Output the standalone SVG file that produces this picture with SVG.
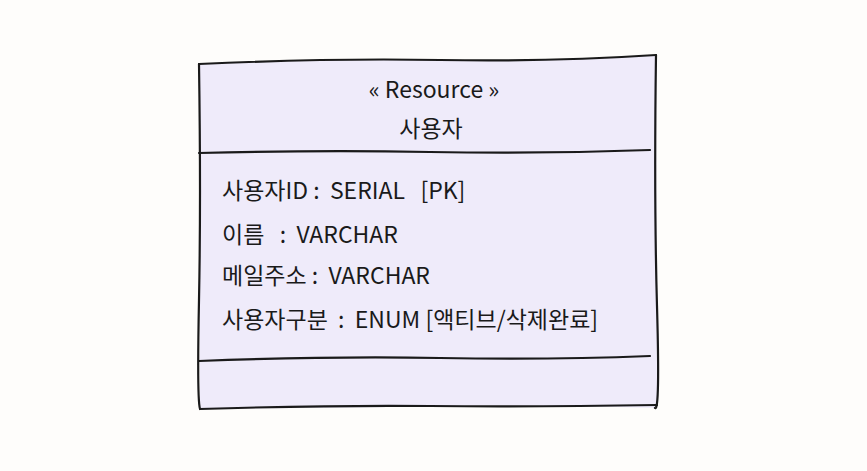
<svg xmlns="http://www.w3.org/2000/svg" width="867" height="471" viewBox="0 0 867 471">
<style>
.ln{fill:none;stroke:#1a1a1a;stroke-width:2.2;stroke-linecap:round;stroke-linejoin:round}
.t{font-family:"Noto Sans CJK KR","Noto Sans",sans-serif;font-size:23px;fill:#1a1a1a;white-space:pre}
.c{text-anchor:middle}
</style>
<rect width="867" height="471" fill="#fefdfb"/>
<g id="class-user">
<path d="M199,64 Q330,58 440,60 T656,55 L657,408 Q500,404 430,406 T200,409 Z" fill="#efebfa" stroke="none"/>
<path class="ln" d="M199,64 Q330,58 440,60 T656,55"/>
<path class="ln" d="M656,55 Q654,200 657,306 T655,408"/>
<path class="ln" d="M199,64 Q201,200 199,300 T200,409"/>
<path class="ln" d="M200,409 Q330,405 430,406 T657,405"/>
<path class="ln" d="M199,153 Q320,150 430,152 T650,150"/>
<path class="ln" d="M199,361 Q330,356 440,358 T650,356"/>
<text class="t c" x="434" y="98" xml:space="preserve">« Resource »</text>
<text class="t c" x="431" y="137">사용자</text>
<text class="t" x="222" y="199" xml:space="preserve">사용자ID :  SERIAL   [PK]</text>
<text class="t" x="222" y="243" xml:space="preserve">이름   :  VARCHAR</text>
<text class="t" x="222" y="284" xml:space="preserve">메일주소 :  VARCHAR</text>
<text class="t" x="222" y="328" xml:space="preserve">사용자구분  :  ENUM [액티브/삭제완료]</text>
</g>
<g id="connectors"></g>
</svg>
